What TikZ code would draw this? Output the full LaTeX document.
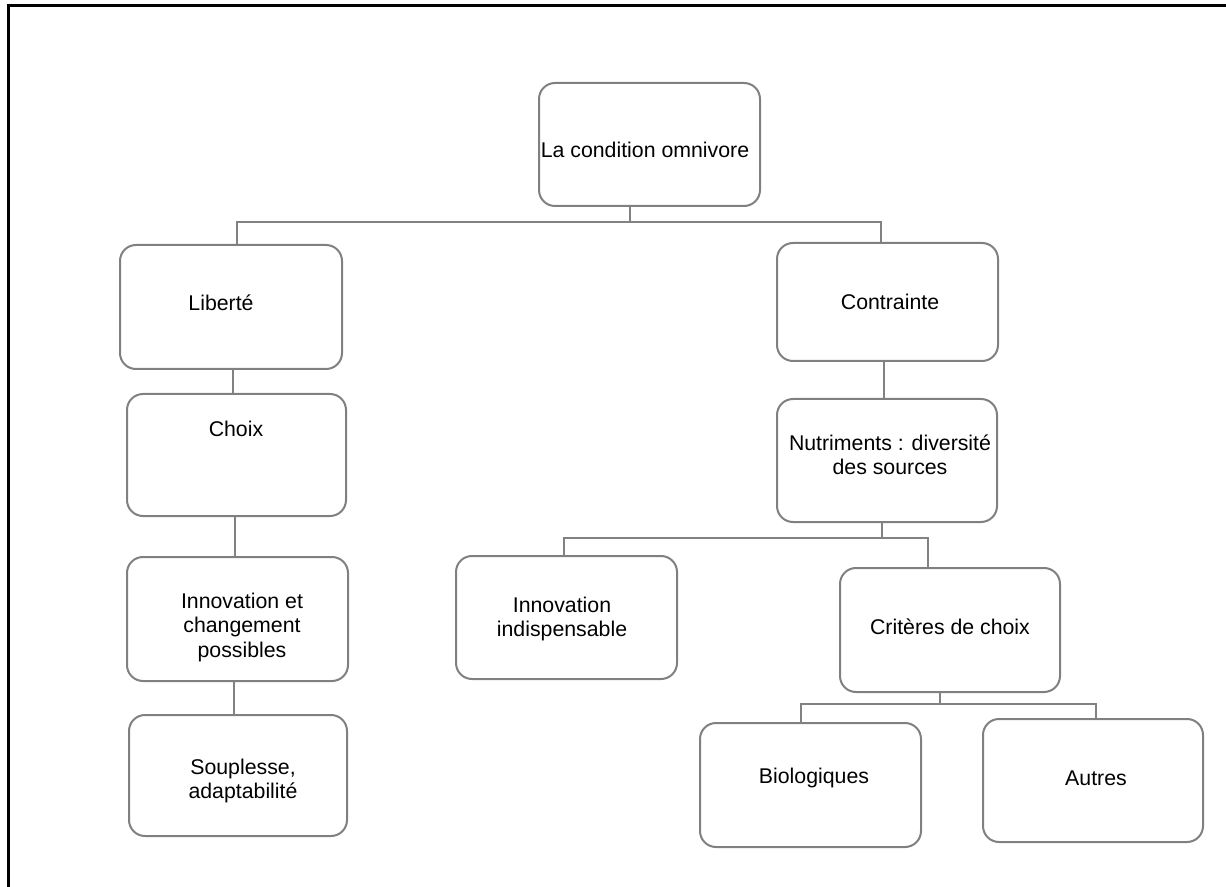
\documentclass[tikz,border=0pt]{standalone}
\usepackage{fontspec}
\setmainfont{Liberation Sans}
\usetikzlibrary{fit}
\definecolor{boxgray}{RGB}{128,128,128}
\definecolor{linegray}{RGB}{130,130,130}
\tikzset{
  boxnode/.style={draw=boxgray, line width=1pt, rounded corners=8pt, inner sep=0pt},
  conn/.style={draw=linegray, line width=0.8pt},
  txt/.style={inner sep=0pt, align=center, font=\fontsize{10.65}{12.25}\selectfont},
  frame/.style={draw=black, line width=1.5pt}
}
\begin{document}
\begin{tikzpicture}[x=0.5pt, y=-0.5pt]
\useasboundingbox (0,0) rectangle (1226,887);
% frame (top and left edges)
\coordinate (fTR) at (1226,5.5);
\coordinate (fTL) at (8.5,5.5);
\coordinate (fBL) at (8.5,887);
\draw[frame] (fTR) -- (fTL) -- (fBL);

% boxes
\node[boxnode, fit={(539,83) (760,206)}] (root) {};
\node[boxnode, fit={(120,245) (342,369)}] (liberte) {};
\node[boxnode, fit={(777,243) (998,361)}] (contrainte) {};
\node[boxnode, fit={(127,394) (346,516)}] (choix) {};
\node[boxnode, fit={(127,557) (348,681)}] (innov) {};
\node[boxnode, fit={(129,715) (347,836)}] (souplesse) {};
\node[boxnode, fit={(777,399) (997,522)}] (nutri) {};
\node[boxnode, fit={(456,556) (677,679)}] (innovind) {};
\node[boxnode, fit={(840,568) (1060,692)}] (criteres) {};
\node[boxnode, fit={(700,723) (921,847)}] (bio) {};
\node[boxnode, fit={(983,719) (1203,842)}] (autres) {};

% texts
\node[txt] (troot) at (645,150) {La condition omnivore};
\node[txt] (tliberte) at (221,303) {Libert\'e};
\node[txt] (tcontrainte) at (890,302) {Contrainte};
\node[txt] (tchoix) at (236,429) {Choix};
\node[txt] (tinnov) at (242,627) {Innovation et\\changement\\possibles};
\node[txt] (tsouplesse) at (243,781) {Souplesse,\\adaptabilit\'e};
\node[txt] (tnutri) at (890,455) {Nutriments : diversit\'e\\des sources};
\node[txt] (tinnovind) at (562,619) {Innovation\\indispensable};
\node[txt] (tcriteres) at (950,627) {Crit\`eres de choix};
\node[txt] (tbio) at (814,778) {Biologiques};
\node[txt] (tautres) at (1096,778) {Autres};

% connectors
\coordinate (j1) at (630,222);
\coordinate (a1) at (237,222);
\coordinate (a2) at (881,222);
\draw[conn] (j1 |- root.south) -- (j1);
\draw[conn] (a1 |- liberte.north) -- (a1) -- (a2) -- (a2 |- contrainte.north);

\coordinate (v1) at (233,0);
\draw[conn] (v1 |- liberte.south) -- (v1 |- choix.north);
\coordinate (v2) at (235,0);
\draw[conn] (v2 |- choix.south) -- (v2 |- innov.north);
\coordinate (v3) at (234,0);
\draw[conn] (v3 |- innov.south) -- (v3 |- souplesse.north);
\coordinate (v4) at (884,0);
\draw[conn] (v4 |- contrainte.south) -- (v4 |- nutri.north);

\coordinate (j2) at (882,538);
\coordinate (b1) at (564,538);
\coordinate (b2) at (928,538);
\draw[conn] (j2 |- nutri.south) -- (j2);
\draw[conn] (b1 |- innovind.north) -- (b1) -- (b2) -- (b2 |- criteres.north);

\coordinate (j3) at (940,704);
\coordinate (c1) at (801,704);
\coordinate (c2) at (1096,704);
\draw[conn] (j3 |- criteres.south) -- (j3);
\draw[conn] (c1 |- bio.north) -- (c1) -- (c2) -- (c2 |- autres.north);
\end{tikzpicture}
\end{document}
